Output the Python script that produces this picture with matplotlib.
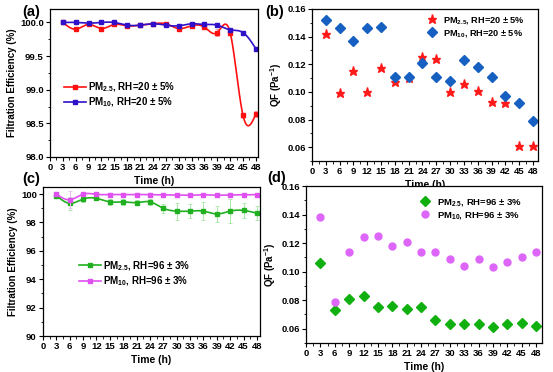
import numpy as np
import matplotlib
matplotlib.use('Agg')
import matplotlib.pyplot as plt
from matplotlib.ticker import MultipleLocator, AutoMinorLocator

plt.rcParams['font.family'] = ['Liberation Sans', 'DejaVu Sans']
plt.rcParams['font.weight'] = 'bold'
plt.rcParams['axes.labelweight'] = 'bold'
plt.rcParams['mathtext.fontset'] = 'custom'
plt.rcParams['mathtext.rm'] = 'Liberation Sans:bold'
plt.rcParams['mathtext.default'] = 'rm'

hours = [3, 6, 9, 12, 15, 18, 21, 24, 27, 30, 33, 36, 39, 42, 45, 48]

# (a) filtration efficiency, RH=20%
fe_pm25_dry = [100.0, 99.9, 99.97, 99.91, 99.97, 99.95, 99.96, 99.98, 99.98, 99.91, 99.95, 99.93, 99.85, 99.85, 98.62, 98.64]
fe_pm25_dry_err = [0.01, 0.03, 0.02, 0.02, 0.02, 0.02, 0.01, 0.02, 0.03, 0.03, 0.02, 0.02, 0.05, 0.03, 0.04, 0.05]
fe_pm10_dry = [100.0, 100.0, 99.99, 100.0, 100.0, 99.96, 99.96, 99.98, 99.96, 99.95, 99.98, 99.97, 99.96, 99.89, 99.85, 99.61]
fe_pm10_dry_err = [0.01, 0.01, 0.01, 0.01, 0.01, 0.02, 0.01, 0.01, 0.03, 0.03, 0.01, 0.01, 0.02, 0.02, 0.03, 0.01]

# (b) quality factor, RH=20%
qf_pm25_dry = [0.142, 0.099, 0.115, 0.100, 0.117, 0.107, 0.110, 0.125, 0.124, 0.100, 0.106, 0.101, 0.093, 0.092, 0.061, 0.061]
qf_pm10_dry = [0.152, 0.146, 0.137, 0.146, 0.147, 0.111, 0.111, 0.121, 0.111, 0.108, 0.123, 0.118, 0.111, 0.097, 0.092, 0.079]

# (c) filtration efficiency, RH=96%
fe_pm25_wet = [99.9, 99.35, 99.65, 99.7, 99.45, 99.45, 99.4, 99.45, 99.0, 98.8, 98.8, 98.8, 98.6, 98.8, 98.85, 98.65]
fe_pm25_wet_err = [0.1, 0.45, 0.2, 0.15, 0.2, 0.2, 0.2, 0.2, 0.3, 0.6, 0.5, 0.65, 0.55, 0.85, 0.55, 0.5]
fe_pm10_wet = [100.0, 99.6, 100.0, 99.98, 99.97, 99.96, 99.97, 99.96, 99.95, 99.94, 99.92, 99.95, 99.92, 99.94, 99.95, 99.96]
fe_pm10_wet_err = [0.05, 0.6, 0.05, 0.03, 0.03, 0.03, 0.03, 0.03, 0.03, 0.03, 0.05, 0.03, 0.05, 0.03, 0.03, 0.03]

# (d) quality factor, RH=96%
qf_pm25_wet = [0.106, 0.073, 0.081, 0.083, 0.075, 0.076, 0.074, 0.075, 0.066, 0.063, 0.063, 0.063, 0.061, 0.063, 0.064, 0.062]
qf_pm10_wet = [0.138, 0.079, 0.114, 0.124, 0.125, 0.118, 0.121, 0.114, 0.114, 0.109, 0.104, 0.109, 0.103, 0.107, 0.110, 0.114]


def smooth(x, y, n=400):
    # natural cubic spline through the points (just for drawing the curve)
    x = np.asarray(x, float)
    y = np.asarray(y, float)
    k = len(x)
    h = np.diff(x)
    A = np.zeros((k, k))
    b = np.zeros(k)
    A[0, 0] = A[-1, -1] = 1
    for i in range(1, k - 1):
        A[i, i - 1] = h[i - 1]
        A[i, i] = 2 * (h[i - 1] + h[i])
        A[i, i + 1] = h[i]
        b[i] = 6 * ((y[i + 1] - y[i]) / h[i] - (y[i] - y[i - 1]) / h[i - 1])
    M = np.linalg.solve(A, b)
    xs = np.linspace(x[0], x[-1], n)
    idx = np.clip(np.searchsorted(x, xs) - 1, 0, k - 2)
    x0, x1 = x[idx], x[idx + 1]
    hi = x1 - x0
    t0, t1 = x1 - xs, xs - x0
    ys = (M[idx] * t0 ** 3 + M[idx + 1] * t1 ** 3) / (6 * hi) \
        + (y[idx] / hi - M[idx] * hi / 6) * t0 + (y[idx + 1] / hi - M[idx + 1] * hi / 6) * t1
    return xs, ys


def style(ax, xmax):
    ax.set_xlim(0, xmax)
    ax.xaxis.set_major_locator(MultipleLocator(3))
    ax.xaxis.set_minor_locator(AutoMinorLocator(2))
    ax.yaxis.set_minor_locator(AutoMinorLocator(2))
    ax.tick_params(which='major', length=3, width=0.8, labelsize=6.8, pad=1.5)
    ax.tick_params(which='minor', length=1.8, width=0.6)
    for s in ax.spines.values():
        s.set_linewidth(0.9)
    ax.set_xlabel('Time (h)', fontsize=7.5, labelpad=3)


fig = plt.figure(figsize=(5.53, 3.72), dpi=100)
W, H = 553, 372


def box(l, t, r, b):
    return [l / W, 1 - b / H, (r - l) / W, (b - t) / H]


ax_a = fig.add_axes(box(50, 9, 258, 157))
ax_b = fig.add_axes(box(312, 9, 538, 161))
ax_c = fig.add_axes(box(43, 187, 260, 336))
ax_d = fig.add_axes(box(306, 186, 542, 343))

# (a)
for vals, err, col, ecol, lab in [
        (fe_pm25_dry, fe_pm25_dry_err, '#ff1010', '#f4a0a8', 'PM$_{2.5}$, RH=20 ± 5%'),
        (fe_pm10_dry, fe_pm10_dry_err, '#3010c8', '#a8b8f0', 'PM$_{10}$, RH=20 ± 5%')]:
    ax_a.errorbar(hours, vals, yerr=err, fmt='none', ecolor=ecol, elinewidth=0.7, capsize=1.5, capthick=0.6)
    xs, ys = smooth(hours, vals)
    ax_a.plot(xs, ys, color=col, lw=1.2)
    ax_a.plot(hours, vals, 's', color=col, ms=2.5)
    ax_a.plot([], [], '-s', color=col, ms=2.5, lw=1.2, label=lab)
ax_a.set_ylim(98.0, 100.2)
ax_a.yaxis.set_major_locator(MultipleLocator(0.5))
ax_a.yaxis.set_major_formatter('{x:.1f}')
style(ax_a, 48.5)
ax_a.set_ylabel('Filtration Efficiency (%)', fontsize=7, labelpad=2)
ax_a.legend(loc='center left', bbox_to_anchor=(0.05, 0.42), frameon=False, fontsize=7,
            handlelength=2.2, handletextpad=0.2, labelspacing=0.15, borderaxespad=0)

# (b)
ax_b.plot(hours, qf_pm25_dry, '*', color='#ff1a1a', ms=6.5, mec='#ff1a1a', label='PM$_{2.5}$, RH=20 ± 5%')
ax_b.plot(hours, qf_pm10_dry, 'D', color='#1560c0', ms=4.8, label='PM$_{10}$, RH=20 ± 5%')
ax_b.set_ylim(0.05, 0.16)
ax_b.yaxis.set_major_locator(MultipleLocator(0.02))
ax_b.yaxis.set_major_formatter('{x:.2f}')
style(ax_b, 49.1)
ax_b.set_ylabel('QF (Pa$^{-1}$)', fontsize=7, labelpad=2)
ax_b.legend(loc='upper left', bbox_to_anchor=(0.475, 0.985), frameon=False, fontsize=6.6,
            handletextpad=0.2, labelspacing=0.2, borderaxespad=0)

# (c)
for vals, err, col, ecol, lab in [
        (fe_pm25_wet, fe_pm25_wet_err, '#20b020', '#a8e8a8', 'PM$_{2.5}$, RH=96 ± 3%'),
        (fe_pm10_wet, fe_pm10_wet_err, '#e050f0', '#f0b8f8', 'PM$_{10}$, RH=96 ± 3%')]:
    ax_c.errorbar(hours, vals, yerr=err, fmt='none', ecolor=ecol, elinewidth=0.7, capsize=1.5, capthick=0.6)
    xs, ys = smooth(hours, vals)
    ax_c.plot(xs, ys, color=col, lw=1.2)
    ax_c.plot(hours, vals, 's', color=col, ms=2.5)
    ax_c.plot([], [], '-s', color=col, ms=2.5, lw=1.2, label=lab)
ax_c.set_ylim(90, 100.5)
ax_c.yaxis.set_major_locator(MultipleLocator(2))
style(ax_c, 48.7)
ax_c.set_ylabel('Filtration Efficiency (%)', fontsize=7, labelpad=2)
ax_c.legend(loc='center left', bbox_to_anchor=(0.15, 0.42), frameon=False, fontsize=7,
            handlelength=2.2, handletextpad=0.2, labelspacing=0.15, borderaxespad=0)

# (d)
ax_d.plot(hours, qf_pm25_wet, 'D', color='#10b010', ms=4.8, label='PM$_{2.5}$, RH=96 ± 3%')
ax_d.plot(hours, qf_pm10_wet, 'o', color='#dd66f8', ms=5, label='PM$_{10}$, RH=96 ± 3%')
ax_d.set_ylim(0.05, 0.16)
ax_d.yaxis.set_major_locator(MultipleLocator(0.02))
ax_d.yaxis.set_major_formatter('{x:.2f}')
style(ax_d, 49.25)
ax_d.set_ylabel('QF (Pa$^{-1}$)', fontsize=7, labelpad=2)
ax_d.legend(loc='upper left', bbox_to_anchor=(0.45, 0.955), frameon=False, fontsize=6.8,
            handletextpad=0.2, labelspacing=0.2, borderaxespad=0)

# panel letters
fig.text(22 / W, 1 - 12 / H, '(a)', fontsize=10.5, fontweight='bold', va='center')
fig.text(265 / W, 1 - 12 / H, '(b)', fontsize=10.5, fontweight='bold', va='center')
fig.text(22 / W, 1 - 179 / H, '(c)', fontsize=10.5, fontweight='bold', va='center')
fig.text(267 / W, 1 - 178 / H, '(d)', fontsize=10.5, fontweight='bold', va='center')

fig.savefig('out.png', dpi=100)
